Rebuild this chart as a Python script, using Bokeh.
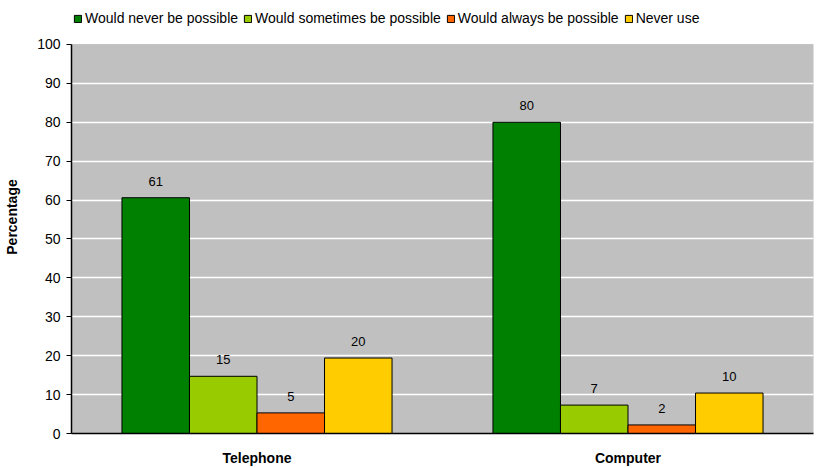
from bokeh.plotting import figure
from bokeh.models import (ColumnDataSource, FactorRange, Legend, LegendItem, Range1d,
                          FixedTicker, LabelSet, BoxAnnotation)
from bokeh.transform import dodge
from bokeh.core.properties import value
from bokeh.embed import file_html
from bokeh.resources import INLINE

categories = ["Telephone", "Computer"]
series_names = ["Would never be possible", "Would sometimes be possible",
                "Would always be possible", "Never use"]
never_possible = [60.6, 80.0]
sometimes_possible = [14.7, 7.3]
always_possible = [5.3, 2.2]
never_use = [19.4, 10.4]
label_never_possible = ["61", "80"]
label_sometimes_possible = ["15", "7"]
label_always_possible = ["5", "2"]
label_never_use = ["20", "10"]
y_ticks = [0, 10, 20, 30, 40, 50, 60, 70, 80, 90, 100]

colors = ["#008000", "#99CC00", "#FF6600", "#FFCC00"]
series_values = [never_possible, sometimes_possible, always_possible, never_use]
series_labels = [label_never_possible, label_sometimes_possible,
                 label_always_possible, label_never_use]
offsets = [-0.273, -0.091, 0.091, 0.273]
bar_w = 0.182

FONT = "Liberation Sans"
Y_MAX = 100
Y_TOP = 111.3  # headroom inside the frame for the legend

p = figure(x_range=FactorRange(*categories, range_padding=0), y_range=Range1d(0, Y_TOP),
           width=818, height=468, output_backend="svg", toolbar_location=None,
           min_border_left=71, min_border_right=5, min_border_top=0, min_border_bottom=31)
p.background_fill_color = "white"
p.border_fill_color = "white"
p.outline_line_color = None

plot_area = BoxAnnotation(bottom=0, top=Y_MAX, fill_color="#C0C0C0", fill_alpha=1,
                          line_color="#808080", line_width=1, level="image")
p.add_layout(plot_area)

items = []
for name, vals, labs, col, off in zip(series_names, series_values, series_labels, colors, offsets):
    src = ColumnDataSource(dict(x=categories, y=vals, t=labs))
    r = p.vbar(x=dodge("x", off, range=p.x_range), top="y", width=bar_w, source=src,
               fill_color=col, line_color="black", line_width=1)
    items.append(LegendItem(label=name, renderers=[r]))
    ls = LabelSet(x=dodge("x", off, range=p.x_range), y="y", text="t", source=src,
                  text_align="center", text_baseline="bottom", y_offset=12,
                  text_font=value(FONT), text_font_size=value("13px"), text_color="black")
    p.add_layout(ls)

p.xgrid.grid_line_color = None
p.ygrid.grid_line_color = "white"
p.ygrid.grid_line_width = 1.5
p.ygrid.ticker = FixedTicker(ticks=y_ticks[1:-1])

p.yaxis.ticker = FixedTicker(ticks=y_ticks)
p.yaxis.bounds = (0, Y_MAX)
p.yaxis.axis_label = "Percentage"
p.yaxis.axis_label_text_font = FONT
p.yaxis.axis_label_text_font_style = "bold"
p.yaxis.axis_label_text_font_size = "14px"
p.yaxis.axis_label_text_color = "black"
p.yaxis.axis_label_standoff = 14
p.yaxis.major_label_text_font = FONT
p.yaxis.major_label_text_font_size = "14px"
p.yaxis.major_label_text_color = "black"
p.yaxis.axis_line_color = "black"
p.yaxis.axis_line_width = 1.5
p.yaxis.major_tick_line_color = "black"
p.yaxis.major_tick_out = 5
p.yaxis.major_tick_in = 0
p.yaxis.minor_tick_line_color = None
p.yaxis.major_label_standoff = 6

p.xaxis.major_label_text_font = FONT
p.xaxis.major_label_text_font_style = "bold"
p.xaxis.major_label_text_font_size = "14px"
p.xaxis.major_label_text_color = "black"
p.xaxis.axis_line_color = "black"
p.xaxis.axis_line_width = 1.5
p.xaxis.major_tick_line_color = None
p.xaxis.major_label_standoff = 10

legend = Legend(items=items, orientation="horizontal", location=(2, 407),
                label_text_font=FONT, label_text_font_size="14px", label_text_color="black",
                glyph_width=9, glyph_height=9, spacing=5, label_standoff=3,
                padding=0, margin=0, border_line_color=None,
                background_fill_alpha=0)
p.add_layout(legend, "center")

open("out.html", "w").write(file_html(p, INLINE))
